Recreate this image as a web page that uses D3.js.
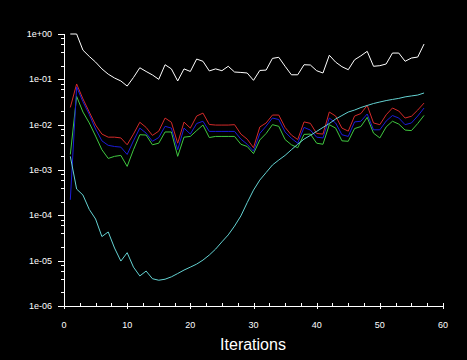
<!DOCTYPE html>
<html>
<head>
<meta charset="utf-8">
<script src="https://cdn.jsdelivr.net/npm/d3@7"></script>
<style>
  html, body { margin: 0; padding: 0; background: #000; }
  svg { display: block; }
  text { font-family: "Liberation Sans", Arial, sans-serif; fill: #fff; }
</style>
</head>
<body>
<svg id="chart" width="467" height="360"></svg>
<script>
const iterations = [1,2,3,4,5,6,7,8,9,10,11,12,13,14,15,16,17,18,19,20,21,22,23,24,25,26,27,28,29,30,31,32,33,34,35,36,37,38,39,40,41,42,43,44,45,46,47,48,49,50,51,52,53,54,55,56,57];

const whiteSeries = [1.0,1.0,0.44,0.32,0.24,0.17,0.13,0.107,0.092,0.071,
  0.11,0.18,0.149,0.125,0.10,0.21,0.17,0.092,0.17,0.149,
  0.28,0.25,0.153,0.17,0.155,0.194,0.145,0.142,0.138,0.095,
  0.157,0.16,0.29,0.306,0.194,0.126,0.126,0.21,0.207,0.155,
  0.138,0.34,0.24,0.19,0.163,0.27,0.33,0.415,0.194,0.2,
  0.218,0.38,0.38,0.25,0.295,0.31,0.6];

const redSeries = [0.024,0.079,0.037,0.019,0.0098,0.0062,0.0053,0.0053,0.0051,0.0036,
  0.0062,0.0113,0.0087,0.0058,0.0072,0.014,0.0113,0.0039,0.0114,0.0084,
  0.0155,0.018,0.0101,0.0098,0.0098,0.0098,0.0100,0.0062,0.0048,0.0031,
  0.0089,0.0109,0.0163,0.0163,0.0087,0.0059,0.0047,0.0115,0.0107,0.0064,
  0.0062,0.019,0.0155,0.0084,0.0072,0.0155,0.0176,0.0267,0.0109,0.0100,
  0.0165,0.0233,0.02,0.014,0.0153,0.021,0.030];

const blueSeries = [2.2e-4,0.068,0.032,0.0168,0.008,0.0044,0.0035,0.0033,0.0032,0.0022,
  0.0044,0.0084,0.0065,0.0043,0.0052,0.0092,0.0084,0.0028,0.0084,0.0062,
  0.0106,0.0119,0.0071,0.0071,0.0071,0.0071,0.0071,0.0048,0.0037,0.0026,
  0.0064,0.0093,0.014,0.013,0.0069,0.005,0.0039,0.0087,0.0076,0.0053,
  0.0051,0.014,0.0109,0.006,0.0055,0.0115,0.0119,0.0172,0.0077,0.0077,
  0.012,0.0159,0.014,0.01,0.0109,0.0155,0.0233];

const greenSeries = [0.0022,0.042,0.019,0.0109,0.0056,0.0028,0.0018,0.002,0.0021,0.0012,
  0.0028,0.006,0.0059,0.0036,0.0039,0.0069,0.0069,0.002,0.0053,0.0055,
  0.0074,0.0098,0.0052,0.0055,0.0055,0.0055,0.0055,0.0037,0.0033,0.0023,
  0.0046,0.0064,0.01,0.0092,0.0047,0.0036,0.0031,0.0061,0.0062,0.0039,
  0.0037,0.01,0.0084,0.0044,0.0043,0.0082,0.0091,0.0145,0.0065,0.0051,
  0.0089,0.0119,0.0103,0.0076,0.0074,0.0106,0.016];

const cyanSeries = [0.002,3.8e-4,2.8e-4,1.35e-4,8.3e-5,3.4e-5,4.3e-5,1.9e-5,9.8e-6,1.5e-5,
  7.2e-6,4.6e-6,5.9e-6,4.0e-6,3.7e-6,3.9e-6,4.4e-6,5.2e-6,6.2e-6,7.2e-6,
  8.4e-6,1.03e-5,1.33e-5,1.8e-5,2.6e-5,3.7e-5,5.8e-5,9.7e-5,1.9e-4,3.6e-4,
  6.0e-4,8.8e-4,1.29e-3,1.66e-3,2.1e-3,2.8e-3,3.7e-3,4.8e-3,5.8e-3,7.1e-3,
  8.7e-3,0.0106,0.0133,0.0159,0.019,0.021,0.0239,0.0265,0.0293,0.0316,
  0.034,0.036,0.038,0.041,0.043,0.045,0.050];

const xTickLabels = ["0","10","20","30","40","50","60"];
const yTickLabels = ["1e+00","1e-01","1e-02","1e-03","1e-04","1e-05","1e-06"];
const xLabel = "Iterations";

const series = [
  {values: whiteSeries, color: "#ffffff"},
  {values: redSeries,   color: "#d42a2a"},
  {values: greenSeries, color: "#40c840"},
  {values: blueSeries,  color: "#1c1cd8"},
  {values: cyanSeries,  color: "#64d2d2"}
];

const svg = d3.select("#chart");
svg.append("rect").attr("width", 467).attr("height", 360).attr("fill", "#000");

const x = d3.scaleLinear().domain([0, 60]).range([64, 443]);
const y = d3.scaleLog().domain([1e-6, 1]).range([306, 34]);

// Y axis
const gy = svg.append("g");
gy.append("line").attr("x1", 64.5).attr("x2", 64.5).attr("y1", y(1)).attr("y2", y(1e-6))
  .attr("stroke", "#fff").attr("stroke-width", 1);
const majors = [1, 1e-1, 1e-2, 1e-3, 1e-4, 1e-5, 1e-6];
majors.forEach((v, i) => {
  const yy = Math.round(y(v)) + 0.5;
  gy.append("line").attr("x1", 58).attr("x2", 64.5).attr("y1", yy).attr("y2", yy)
    .attr("stroke", "#fff");
  gy.append("text").attr("x", 52).attr("y", y(v)).attr("dy", "0.35em")
    .attr("text-anchor", "end").attr("font-size", 9).text(yTickLabels[i]);
});
const minorMults = [2, 4, 6, 8];
for (let e = -6; e < 0; e++) {
  minorMults.forEach(m => {
    const v = m * Math.pow(10, e);
    const yy = Math.round(y(v)) + 0.5;
    gy.append("line").attr("x1", 61).attr("x2", 64.5).attr("y1", yy).attr("y2", yy)
      .attr("stroke", "#fff");
  });
}

// X axis
const gx = svg.append("g");
gx.append("line").attr("x1", 58).attr("x2", x(60) + 0.5).attr("y1", 306.5).attr("y2", 306.5)
  .attr("stroke", "#fff");
for (let t = 0; t <= 60; t += 2.5) {
  const xx = Math.round(x(t)) + 0.5;
  const major = (t % 10 === 0);
  gx.append("line").attr("x1", xx).attr("x2", xx)
    .attr("y1", 303).attr("y2", major ? 309 : 306.5).attr("stroke", "#fff");
}
xTickLabels.forEach((lab, i) => {
  gx.append("text").attr("x", x(i * 10)).attr("y", 327.5)
    .attr("text-anchor", "middle").attr("font-size", 9).text(lab);
});
svg.append("text").attr("x", 253).attr("y", 350).attr("text-anchor", "middle")
  .attr("font-size", 16).text(xLabel);

// Lines
const line = d3.line().x((d, i) => x(iterations[i])).y(d => y(d));
series.forEach(s => {
  svg.append("path").datum(s.values).attr("d", line)
    .attr("fill", "none").attr("stroke", s.color).attr("stroke-width", 1);
});
</script>
</body>
</html>
